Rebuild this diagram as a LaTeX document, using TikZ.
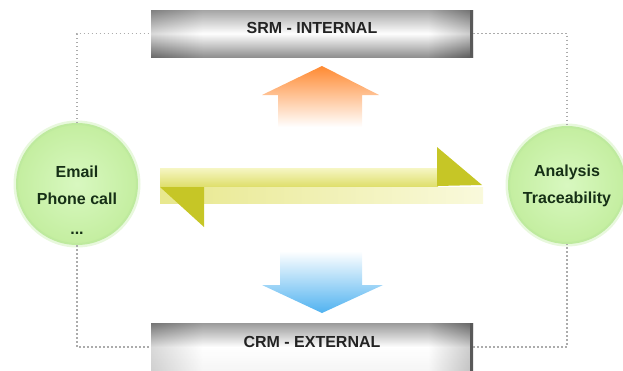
\documentclass[tikz,border=0pt]{standalone}
\usepackage{fontspec}
\setmainfont{Liberation Sans}
\definecolor{ylhead}{RGB}{198,198,38}
\definecolor{ylpale}{RGB}{246,246,196}
\definecolor{ylmid}{RGB}{222,222,105}
\definecolor{orng}{RGB}{255,138,50}
\definecolor{blu}{RGB}{80,178,240}
\definecolor{grnin}{RGB}{216,248,192}
\definecolor{grnout}{RGB}{196,238,160}
\definecolor{grnedge}{RGB}{190,234,158}
\definecolor{txtgreen}{RGB}{22,48,22}
\definecolor{dotgray}{RGB}{172,172,172}
\definecolor{bartxt}{RGB}{35,35,35}
\pgfdeclarehorizontalshading{barh}{100bp}{color(0bp)=(black!50); color(25bp)=(black!50);
  color(33bp)=(white); color(68bp)=(white); color(75bp)=(black!70); color(100bp)=(black!70)}
\begin{document}
\begin{tikzpicture}[x=1pt,y=-1pt,
  bubble/.style={circle, inner sep=0pt, shading=radial, inner color=grnin, outer color=grnout,
     draw=grnedge, line width=2pt},
  btext/.style={inner sep=0pt, align=center, text=txtgreen,
     font=\fontsize{16}{27}\selectfont\bfseries},
  bar/.style={rectangle, inner sep=0pt, minimum width=322pt, minimum height=47pt,
     text height=10pt, text depth=10pt, text=bartxt,
     font=\fontsize{16}{18}\selectfont\bfseries,
     shading=barh},
  dotline/.style={dotgray, line width=1.5pt, dash pattern=on 1.5pt off 2.5pt},
]
\useasboundingbox (0,0) rectangle (623,370);

% bars
\node[bar, postaction={fill opacity=0.7, top color=black!50, bottom color=black!62, middle color=white}] (srm) at (312,33.5) {SRM - INTERNAL};
\node[bar, postaction={fill opacity=0.7, top color=black!55, bottom color=white!95!black, middle color=white}] (crm) at (312,347) {CRM - EXTERNAL};
\foreach \b in {srm,crm}{
  \fill[black!65] ([xshift=-3pt]\b.north east) rectangle (\b.south east);
}

% circles
\fill[grnedge, opacity=0.35] (77,184) circle (63.5pt);
\fill[grnedge, opacity=0.35] (567,185) circle (61.5pt);
\node[bubble, minimum size=120pt] (L) at (77,184) {};
\node[bubble, minimum size=116pt] (R) at (567,185) {};
\node[btext, anchor=north] (Lt) at (77,165.5) {Email\\Phone call\\[3pt]...};
\node[btext, anchor=north] (Rt) at (567,165) {Analysis\\Traceability};

% dotted connectors
\draw[dotline] (L.north) |- (srm.west);
\draw[dotline] (srm.east) -| (R.north);
\draw[dotline] (L.south) |- (crm.west);
\draw[dotline] (crm.east) -| (R.south);

% up arrow (orange)
\shade[top color=orng, bottom color=white]
  (278,127) -- (278,95) -- (262,95) -- (322,66) -- (379,95) -- (362,95) -- (362,127) -- cycle;
% down arrow (blue)
\shade[top color=white, bottom color=blu]
  (280,251) -- (280,285) -- (262,285) -- (322,313) -- (383,285) -- (362,285) -- (362,251) -- cycle;

% yellow double arrow
\shade[top color=ylpale, bottom color=ylmid] (160,168) rectangle (438,187);
\fill[ylhead] (437,147) -- (482,185) -- (437,186) -- cycle;
\shade[left color=ylmid!60!ylpale, right color=ylpale!60!white] (160,187) rectangle (483,203);
\fill[ylhead] (160,187) -- (204,187) -- (204,227) -- cycle;
\end{tikzpicture}
\end{document}
